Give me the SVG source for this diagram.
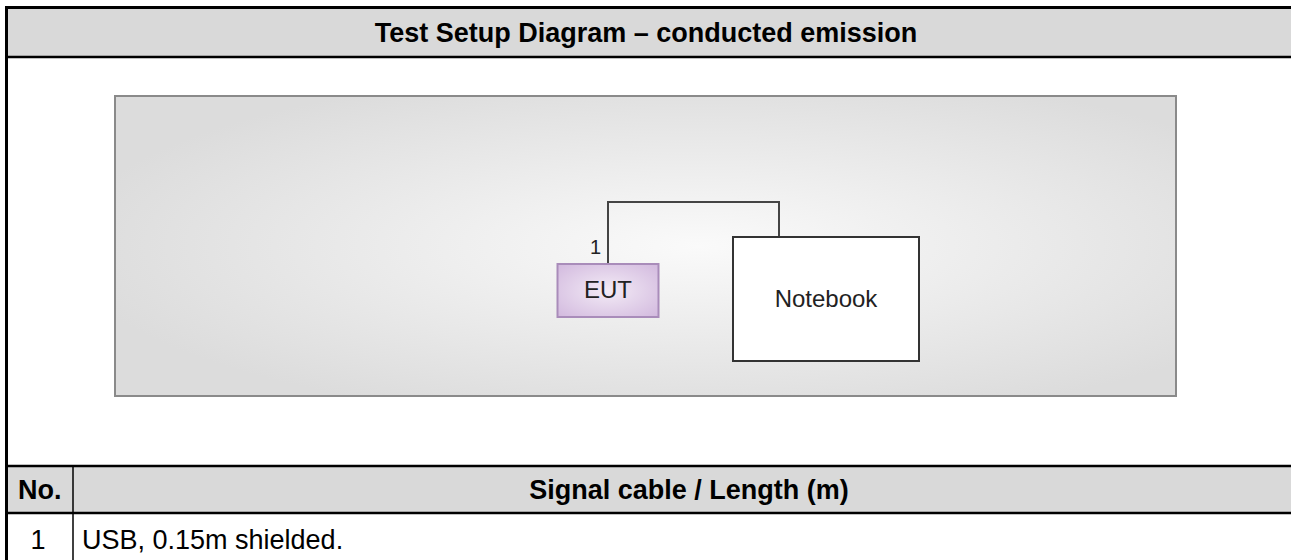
<svg xmlns="http://www.w3.org/2000/svg" width="1291" height="560" viewBox="0 0 1291 560">
<style>
.hdr{fill:#d9d9d9}
.rule{stroke:#000;stroke-width:2.5;fill:none}
.bold{font-family:"Liberation Sans",Arial,sans-serif;font-weight:bold;font-size:27px;fill:#000}
.reg{font-family:"Liberation Sans",Arial,sans-serif;font-size:27px;fill:#000}
.lbl{font-family:"Liberation Sans",Arial,sans-serif;font-size:24px;fill:#222}
.wire{stroke:#444;stroke-width:2;fill:none}
</style>
<defs>
<radialGradient id="panelG" cx="0.55" cy="0.5" r="0.6">
<stop offset="0" stop-color="#fafafa"/>
<stop offset="1" stop-color="#dcdcdc"/>
</radialGradient>
<radialGradient id="eutG" cx="0.5" cy="0.5" r="0.7">
<stop offset="0" stop-color="#f3ebf6"/>
<stop offset="1" stop-color="#d2b9de"/>
</radialGradient>
</defs>
<rect width="1291" height="560" fill="#fff"/>
<g id="table">
<rect class="hdr" x="6" y="8" width="1285" height="48"/>
<rect class="hdr" x="6" y="466" width="1285" height="47"/>
<line class="rule" x1="5" y1="7.5" x2="1291" y2="7.5" style="stroke-width:3"/>
<line x1="6.5" y1="6" x2="6.5" y2="560" stroke="#000" stroke-width="3"/>
<line class="rule" x1="6" y1="57" x2="1291" y2="57"/>
<line class="rule" x1="6" y1="466" x2="1291" y2="466"/>
<line class="rule" x1="6" y1="513" x2="1291" y2="513"/>
<line x1="73" y1="467" x2="73" y2="560" stroke="#000" stroke-width="1.5"/>
<text class="bold" x="646" y="42" text-anchor="middle">Test Setup Diagram – conducted emission</text>
<text class="bold" x="18" y="499">No.</text>
<text class="bold" x="689" y="499" text-anchor="middle">Signal cable / Length (m)</text>
<text class="reg" x="38" y="549" text-anchor="middle">1</text>
<text class="reg" x="82" y="549">USB, 0.15m shielded.</text>
</g>
<g id="panel">
<rect x="115" y="96" width="1061" height="300" fill="url(#panelG)" stroke="#8a8a8a" stroke-width="2"/>
</g>
<g id="connectors">
<polyline class="wire" points="608,264 608,202 779,202 779,237"/>
<text class="lbl" x="601" y="254" text-anchor="end" style="font-size:20px">1</text>
</g>
<g id="eut">
<rect x="557.5" y="264" width="101" height="53" fill="url(#eutG)" stroke="#a98cba" stroke-width="2"/>
<text class="lbl" x="608" y="298" text-anchor="middle">EUT</text>
</g>
<g id="notebook">
<rect x="733" y="237" width="186" height="124" fill="#fff" stroke="#333" stroke-width="2"/>
<text class="lbl" x="826" y="307" text-anchor="middle">Notebook</text>
</g>
</svg>
